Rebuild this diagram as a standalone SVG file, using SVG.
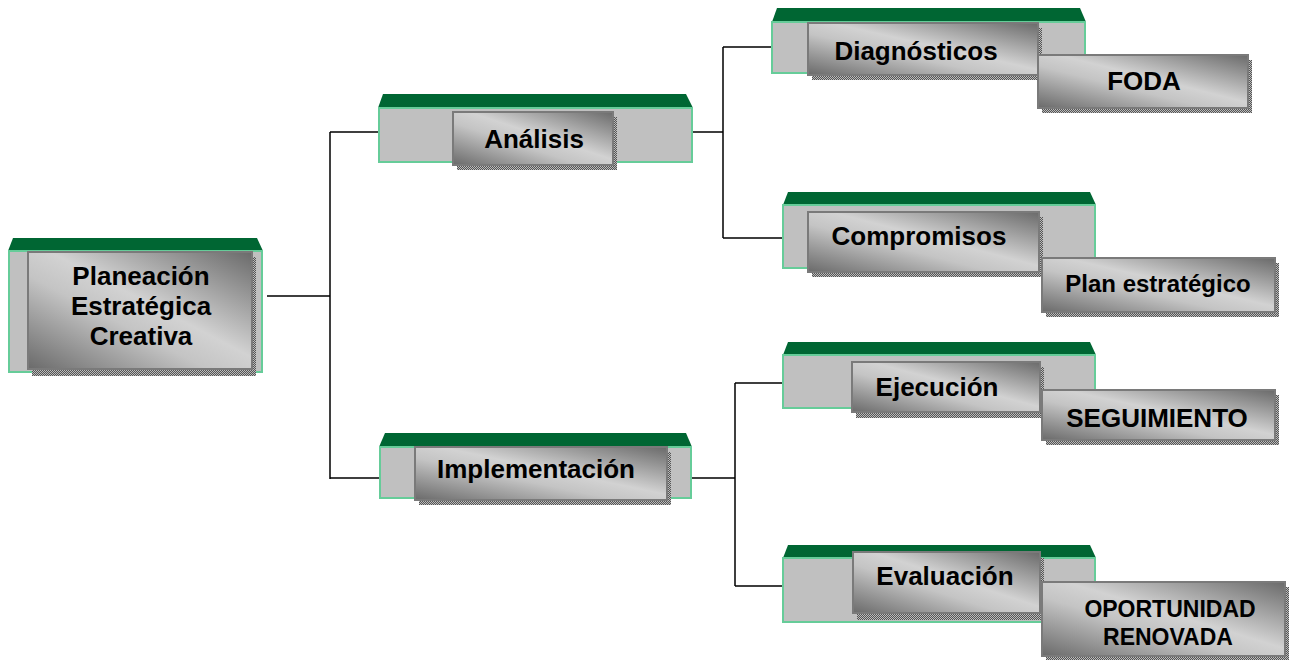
<svg xmlns="http://www.w3.org/2000/svg" width="1297" height="660" viewBox="0 0 1297 660">
<defs>
<linearGradient id="g" x1="1" y1="0" x2="0" y2="1">
<stop offset="0" stop-color="#6a6a6a"/>
<stop offset="0.45" stop-color="#d2d2d2"/>
<stop offset="0.6" stop-color="#c4c4c4"/>
<stop offset="1" stop-color="#6a6a6a"/>
</linearGradient>
<pattern id="dots" width="2" height="2" patternUnits="userSpaceOnUse">
<rect width="2" height="2" fill="#555"/>
<rect width="1" height="1" fill="#bbb"/>
<rect x="1" y="1" width="1" height="1" fill="#bbb"/>
</pattern>
<style>
.top{fill:#006633}
.body{fill:#c0c0c0;stroke:#66cc99;stroke-width:2}
.inner{fill:url(#g);stroke:#7a7a7a;stroke-width:2}
.shadow{fill:url(#dots)}
.t{font-family:"Liberation Sans",Arial,sans-serif;font-weight:bold;font-size:26px;text-anchor:middle;fill:#000}
.s{font-size:24px}
.o{font-size:23px}
.c{fill:none;stroke:#000;stroke-width:1.5}
</style>
</defs>
<g id="connectors">
<path class="c" d="M267,296 H330 M330,132 V479 M330,132 H378 M330,478 H379"/>
<path class="c" d="M693,132 H723 M723,47 V238 M723,47 H772 M723,238 H783"/>
<path class="c" d="M692,478 H735 M735,383 V586 M735,383 H783 M735,586 H783"/>
</g>
<g id="root">
<polygon class="top" points="13,238 257,238 263,251 8,251"/>
<rect class="body" x="9" y="251" width="253" height="121"/>
<rect class="shadow" x="32" y="257" width="224" height="119"/>
<rect class="inner" x="28" y="252" width="224" height="117"/>
<text class="t" x="141" y="285">Planeación</text>
<text class="t" x="141" y="315">Estratégica</text>
<text class="t" x="141" y="345">Creativa</text>
</g>
<g id="analisis">
<polygon class="top" points="383,94 686,94 693,108 378,108"/>
<rect class="body" x="379" y="108" width="313" height="54"/>
<rect class="shadow" x="457" y="117" width="160" height="53"/>
<rect class="inner" x="453" y="112" width="160" height="53"/>
<text class="t" x="534" y="148">Análisis</text>
</g>
<g id="implementacion">
<polygon class="top" points="385,433 686,433 692,447 379,447"/>
<rect class="body" x="380" y="447" width="311" height="51"/>
<rect class="shadow" x="419" y="452" width="252" height="53"/>
<rect class="inner" x="415" y="447" width="252" height="53"/>
<text class="t" x="536" y="478">Implementación</text>
</g>
<g id="diagnosticos">
<polygon class="top" points="777,8 1080,8 1086,22 772,22"/>
<rect class="body" x="772" y="22" width="313" height="51"/>
<rect class="shadow" x="812" y="28" width="230" height="52"/>
<rect class="inner" x="808" y="23" width="230" height="52"/>
<text class="t" x="916" y="60">Diagnósticos</text>
</g>
<g id="compromisos">
<polygon class="top" points="788,192 1090,192 1096,205 783,205"/>
<rect class="body" x="783" y="205" width="312" height="63"/>
<rect class="shadow" x="812" y="217" width="231" height="60"/>
<rect class="inner" x="808" y="212" width="231" height="60"/>
<text class="t" x="919" y="245">Compromisos</text>
</g>
<g id="ejecucion">
<polygon class="top" points="788,342 1090,342 1096,355 783,355"/>
<rect class="body" x="783" y="355" width="312" height="53"/>
<rect class="shadow" x="856" y="367" width="188" height="51"/>
<rect class="inner" x="852" y="362" width="188" height="50"/>
<text class="t" x="937" y="396">Ejecución</text>
</g>
<g id="evaluacion">
<polygon class="top" points="788,545 1090,545 1096,558 783,558"/>
<rect class="body" x="783" y="558" width="312" height="64"/>
<rect class="shadow" x="857" y="558" width="187" height="62"/>
<rect class="inner" x="853" y="552" width="187" height="61"/>
<text class="t" x="945" y="585">Evaluación</text>
</g>
<g id="foda">
<rect class="shadow" x="1042" y="60" width="210" height="53"/>
<rect class="inner" x="1038" y="55" width="210" height="53"/>
<text class="t" x="1144" y="90">FODA</text>
</g>
<g id="plan">
<rect class="shadow" x="1046" y="263" width="233" height="54"/>
<rect class="inner" x="1042" y="258" width="233" height="54"/>
<text class="t s" x="1158" y="292">Plan estratégico</text>
</g>
<g id="seguimiento">
<rect class="shadow" x="1046" y="395" width="233" height="50"/>
<rect class="inner" x="1042" y="390" width="233" height="50"/>
<text class="t" x="1157" y="427">SEGUIMIENTO</text>
</g>
<g id="oportunidad">
<rect class="shadow" x="1046" y="587" width="243" height="74"/>
<rect class="inner" x="1042" y="582" width="243" height="74"/>
<text class="t o" x="1170" y="617">OPORTUNIDAD</text>
<text class="t o" x="1168" y="645">RENOVADA</text>
</g>
</svg>
